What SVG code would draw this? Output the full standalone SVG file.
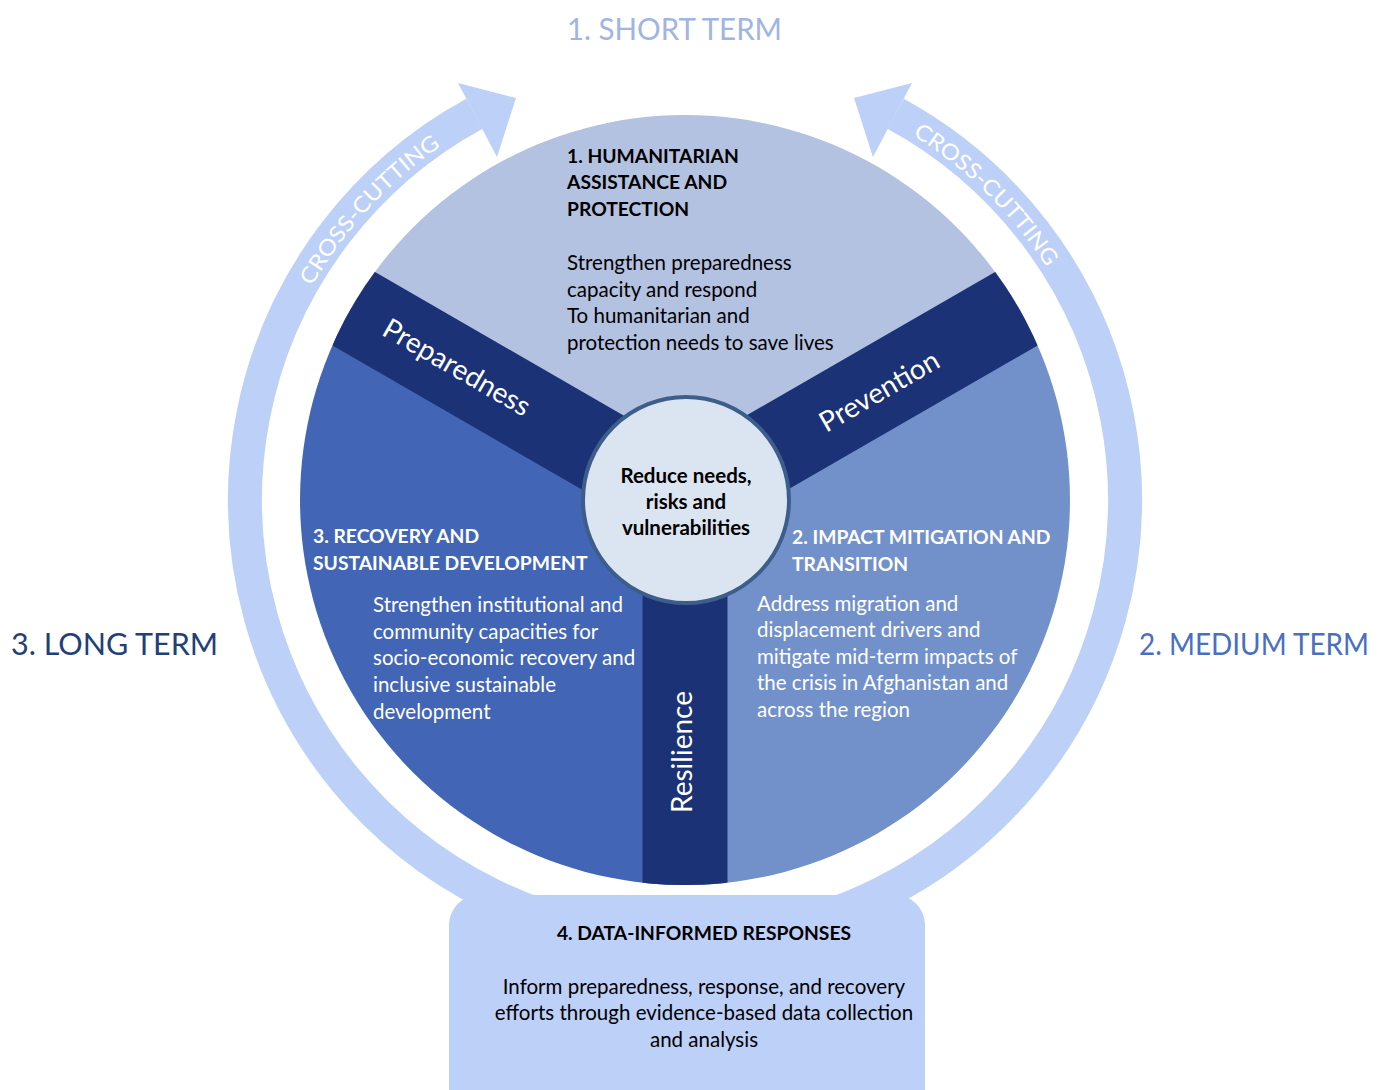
<svg xmlns="http://www.w3.org/2000/svg" width="1386" height="1090" viewBox="0 0 1386 1090">
<style>
.cal{font-family:Lato,"Open Sans","Liberation Sans",sans-serif}
.b{font-weight:bold}
.wh{fill:#ffffff}
.bk{fill:#000000}
.body{font-size:20.5px}
.head{font-size:19.3px;font-weight:bold}
.band{font-size:28px;fill:#ffffff}
.gill{font-family:Lato,"Liberation Sans",sans-serif;font-size:30px}
.xc{font-family:Lato,"Liberation Sans",sans-serif;font-size:22px;fill:#ffffff}
</style>
<defs>
<clipPath id="disc"><circle cx="685" cy="500" r="385"/></clipPath>
<path id="arcL" d="M 295.3 318.3 A 431 431 0 0 1 503.3 110.3"/>
<path id="arcR" d="M 866.7 110.3 A 431 431 0 0 1 1074.7 318.3"/>
</defs>
<rect width="1386" height="1090" fill="#ffffff"/>

<g id="connectors">
<path d="M 474.4 113.7 A 440 440 0 1 0 895.6 113.7" fill="none" stroke="#bdd0f7" stroke-width="34"/>
<polygon points="458,83 516,98 497,157" fill="#bdd0f7"/>
<polygon points="912,83 854,98 873,157" fill="#bdd0f7"/>
<text class="xc"><textPath href="#arcL" startOffset="36" textLength="192" lengthAdjust="spacingAndGlyphs">CROSS-CUTTING</textPath></text>
<text class="xc"><textPath href="#arcR" startOffset="52" textLength="190" lengthAdjust="spacingAndGlyphs">CROSS-CUTTING</textPath></text>
</g>

<g id="sector-humanitarian">
<path d="M 685 500 L 351.6 307.5 A 385 385 0 0 1 1018.4 307.5 Z" fill="#b3c2e1"/>
<text class="cal head bk"><tspan x="567" y="163">1. HUMANITARIAN</tspan><tspan x="567" y="189">ASSISTANCE AND</tspan><tspan x="567" y="216">PROTECTION</tspan></text>
<text class="cal body bk"><tspan x="567" y="270">Strengthen preparedness</tspan><tspan x="567" y="297">capacity and respond</tspan><tspan x="567" y="323">To humanitarian and</tspan><tspan x="567" y="350">protection needs to save lives</tspan></text>
</g>

<g id="sector-impact">
<path d="M 685 500 L 1018.4 307.5 A 385 385 0 0 1 685 885 Z" fill="#7291cb"/>
<text class="cal head wh"><tspan x="792" y="544">2. IMPACT MITIGATION AND</tspan><tspan x="792" y="571">TRANSITION</tspan></text>
<text class="cal body wh"><tspan x="757" y="611">Address migration and</tspan><tspan x="757" y="637">displacement drivers and</tspan><tspan x="757" y="664">mitigate mid-term impacts of</tspan><tspan x="757" y="690">the crisis in Afghanistan and</tspan><tspan x="757" y="717">across the region</tspan></text>
</g>

<g id="sector-recovery">
<path d="M 685 500 L 685 885 A 385 385 0 0 1 351.6 307.5 Z" fill="#4266b5"/>
<text class="cal head wh"><tspan x="313" y="543">3. RECOVERY AND</tspan><tspan x="313" y="570">SUSTAINABLE DEVELOPMENT</tspan></text>
<text class="cal body wh"><tspan x="373" y="612">Strengthen institutional and</tspan><tspan x="373" y="639">community capacities for</tspan><tspan x="373" y="665">socio-economic recovery and</tspan><tspan x="373" y="692">inclusive sustainable</tspan><tspan x="373" y="719">development</tspan></text>
</g>

<g id="bands" clip-path="url(#disc)">
<g id="band-preparedness">
<rect x="685" y="457.5" width="420" height="85" fill="#1c3277" transform="rotate(210 685 500)"/>
<text class="cal band" text-anchor="middle" y="10" transform="translate(457,367) rotate(30)">Preparedness</text>
</g>
<g id="band-prevention">
<rect x="685" y="457.5" width="420" height="85" fill="#1c3277" transform="rotate(330 685 500)"/>
<text class="cal band" text-anchor="middle" y="10" transform="translate(879,391) rotate(-30)">Prevention</text>
</g>
<g id="band-resilience">
<rect x="642.5" y="500" width="85" height="420" fill="#1c3277"/>
<text class="cal band" text-anchor="middle" y="10" transform="translate(682,752) rotate(-90)">Resilience</text>
</g>
</g>

<g id="center">
<circle cx="686" cy="500" r="103" fill="#dbe5f2" stroke="#3d5e8a" stroke-width="4"/>
<text class="cal b bk" font-size="20.5" text-anchor="middle"><tspan x="686" y="483">Reduce needs,</tspan><tspan x="686" y="509">risks and</tspan><tspan x="686" y="535">vulnerabilities</tspan></text>
</g>

<g id="data-box">
<rect x="449" y="895" width="476" height="230" rx="30" fill="#bdd0f7"/>
<text class="cal head bk" text-anchor="middle" x="704" y="940">4. DATA-INFORMED RESPONSES</text>
<text class="cal body bk" text-anchor="middle"><tspan x="704" y="994">Inform preparedness, response, and recovery</tspan><tspan x="704" y="1020">efforts through evidence-based data collection</tspan><tspan x="704" y="1047">and analysis</tspan></text>
</g>

<g id="titles">
<text class="gill" x="567" y="40" fill="#a0b5e2" textLength="215" lengthAdjust="spacingAndGlyphs">1. SHORT TERM</text>
<text class="gill" x="11" y="655" fill="#233f78" textLength="207" lengthAdjust="spacingAndGlyphs">3. LONG TERM</text>
<text class="gill" x="1139" y="655" fill="#4a6fc1" font-size="27" textLength="230" lengthAdjust="spacingAndGlyphs">2. MEDIUM TERM</text>
</g>
</svg>
